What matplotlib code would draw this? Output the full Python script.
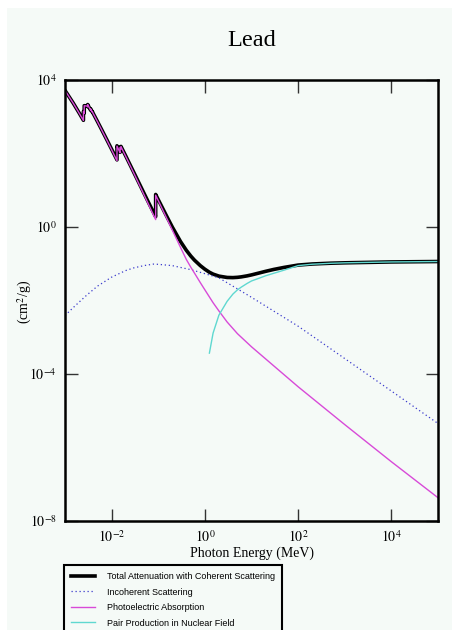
import numpy as np
import matplotlib
matplotlib.use("Agg")
import matplotlib.pyplot as plt
from matplotlib.patches import Rectangle

# Photon cross sections for lead (cm^2/g)
# absorption edges are written as two points at the same energy
total_E = [1e-3, 1.5e-3, 2e-3, 2.484e-3, 2.484e-3, 2.586e-3, 2.586e-3, 3e-3,
           3.066e-3, 3.066e-3, 3.554e-3, 3.554e-3, 3.851e-3, 3.851e-3, 4e-3,
           5e-3, 6e-3, 8e-3, 1e-2, 1.3035e-2, 1.3035e-2, 1.5e-2, 1.52e-2,
           1.52e-2, 1.5861e-2, 1.5861e-2, 2e-2, 3e-2, 4e-2, 5e-2, 6e-2, 8e-2,
           8.8e-2, 8.8e-2, 0.1, 0.15, 0.2, 0.3, 0.4, 0.5, 0.6, 0.8, 1.0, 1.25,
           1.5, 2.0, 3.0, 4.0, 5.0, 6.0, 8.0, 10.0, 15.0, 20.0, 30.0, 50.0,
           100.0, 200.0, 500.0, 1e3, 1e4, 1e5]
total_mu = [5210, 2356, 1285, 800.6, 1397, 1250, 2000, 1965,
            1870, 2150, 1500, 1640, 1344, 1388, 1251,
            730.4, 467.2, 228.7, 130.6, 67.0, 162.0, 111.6, 107.8,
            148.5, 134.4, 156.1, 86.36, 30.32, 14.36, 8.041, 5.021, 2.419,
            1.910, 7.683, 5.549, 2.014, 0.9985, 0.4031, 0.2323, 0.1614, 0.1248,
            0.0887, 0.07102, 0.05876, 0.05222, 0.04606, 0.04234, 0.04197,
            0.04272, 0.04391, 0.04675, 0.04972, 0.05658, 0.06206, 0.0700,
            0.0795, 0.0920, 0.0985, 0.1035, 0.106, 0.112, 0.115]

incoh_E = [1e-3, 1.5e-3, 2e-3, 3e-3, 5e-3, 1e-2, 2e-2, 3e-2, 5e-2, 8e-2, 0.1,
           0.2, 0.5, 1.0, 2.0, 5.0, 10.0, 100.0, 1e3, 1e4, 1e5]
incoh_mu = [3.9e-3, 6.4e-3, 9.0e-3, 1.44e-2, 2.47e-2, 4.32e-2, 6.52e-2,
            7.73e-2, 8.93e-2, 9.8e-2, 9.64e-2, 8.89e-2, 6.9e-2, 5.37e-2,
            4.13e-2, 2.07e-2, 1.22e-2, 2.0e-3, 2.63e-4, 3.44e-5, 4.5e-6]

photo_E = [1e-3, 1.5e-3, 2e-3, 2.484e-3, 2.484e-3, 2.586e-3, 2.586e-3, 3e-3,
           3.066e-3, 3.066e-3, 3.554e-3, 3.554e-3, 3.851e-3, 3.851e-3, 4e-3,
           5e-3, 6e-3, 8e-3, 1e-2, 1.3035e-2, 1.3035e-2, 1.5e-2, 1.52e-2,
           1.52e-2, 1.5861e-2, 1.5861e-2, 2e-2, 3e-2, 4e-2, 5e-2, 6e-2, 8e-2,
           8.8e-2, 8.8e-2, 0.1, 0.15, 0.2, 0.3, 0.4, 0.5, 0.6, 0.8, 1.0, 1.5,
           2.0, 3.0, 5.0, 10.0, 100.0, 1e3, 1e4, 1e5]
photo_mu = [5197, 2344, 1274, 791, 1387, 1240, 1990, 1953,
            1858, 2137, 1489, 1630, 1335, 1379, 1242,
            723, 461, 224, 126.7, 63.6, 158.6, 108.6, 104.9,
            145.6, 131.6, 153.3, 84.0, 29.0, 13.4, 7.33, 4.47, 2.04,
            1.59, 7.34, 5.23, 1.78, 0.827, 0.279, 0.131, 0.0802, 0.0553,
            0.0305, 0.0195, 0.0087, 0.0052, 0.0026, 0.00125, 5.5e-4,
            4.5e-5, 4.2e-6, 4.1e-7, 4.3e-8]

pair_E = [1.25, 1.5, 2.0, 3.0, 4.0, 5.0, 6.0, 8.0, 10.0, 15.0, 20.0, 30.0,
          50.0, 100.0, 200.0, 500.0, 1e3, 1e4, 1e5]
pair_mu = [3.7e-4, 1.3e-3, 4.0e-3, 9.5e-3, 1.5e-2, 1.95e-2, 2.3e-2, 2.9e-2,
           3.4e-2, 4.1e-2, 4.7e-2, 5.5e-2, 6.7e-2, 0.089, 0.097, 0.1030,
           0.106, 0.112, 0.115]

x_ticks = [1e-2, 1e0, 1e2, 1e4]
x_tick_labels = [r"$10^{-2}$", r"$10^{0}$", r"$10^{2}$", r"$10^{4}$"]
y_ticks = [1e-8, 1e-4, 1e0, 1e4]
y_tick_labels = [r"$10^{-8}$", r"$10^{-4}$", r"$10^{0}$", r"$10^{4}$"]

plt.rcParams['font.family'] = ['Liberation Serif', 'DejaVu Serif']
plt.rcParams['mathtext.fontset'] = 'stix'

bg = '#f5faf7'
fig = plt.figure(figsize=(4.53, 6.30), dpi=100, facecolor='white')
fig.patches.append(Rectangle((7 / 453, 0), 445 / 453, 622 / 630,
                             transform=fig.transFigure, facecolor=bg,
                             edgecolor='none', zorder=-10))

ax = fig.add_axes([65 / 453, 1 - 521 / 630, 373 / 453, 441 / 630])
ax.set_facecolor(bg)
ax.set_xscale('log')
ax.set_yscale('log')
ax.set_xlim(1e-3, 1e5)
ax.set_ylim(1e-8, 1e4)

ax.plot(total_E, total_mu, color='black', linewidth=2.6,
        label='Total Attenuation with Coherent Scattering')
ax.plot(incoh_E, incoh_mu, color='#3a3acc', linewidth=0.9, linestyle=(0, (1, 2.2)),
        label='Incoherent Scattering')
ax.plot(photo_E, photo_mu, color='#d84ad8', linewidth=1.0,
        label='Photoelectric Absorption')
ax.plot(pair_E, pair_mu, color='#5fd8d0', linewidth=1.0,
        label='Pair Production in Nuclear Field')

ax.set_xticks(x_ticks)
ax.set_xticklabels(x_tick_labels)
ax.set_yticks(y_ticks)
ax.set_yticklabels(y_tick_labels)
ax.minorticks_off()
ax.tick_params(which='major', direction='in', length=9, width=1.0,
               color='#333333', top=True, right=True, labelsize=10, pad=6)
for s in ax.spines.values():
    s.set_linewidth(1.8)

ax.set_xlabel('Photon Energy (MeV)', fontsize=10, labelpad=1)
ax.set_ylabel(r'(cm$^2$/g)', fontsize=10)
ax.yaxis.set_label_coords(-31 / 373, 0.497)
fig.text(252 / 453, 1 - 40 / 630, 'Lead', ha='center', va='center', fontsize=17.5)

leg = ax.legend(loc='upper left', bbox_to_anchor=(64 / 453, 1 - 565 / 630),
                bbox_transform=fig.transFigure, frameon=True, fancybox=False,
                edgecolor='black', facecolor=bg, framealpha=1,
                prop={'family': 'Liberation Sans', 'size': 6.5},
                handlelength=2.6, handletextpad=1.35, labelspacing=0.72,
                borderpad=0.78, borderaxespad=0)
leg.get_frame().set_linewidth(1.5)

fig.savefig('out.png', dpi=100, facecolor=fig.get_facecolor())
